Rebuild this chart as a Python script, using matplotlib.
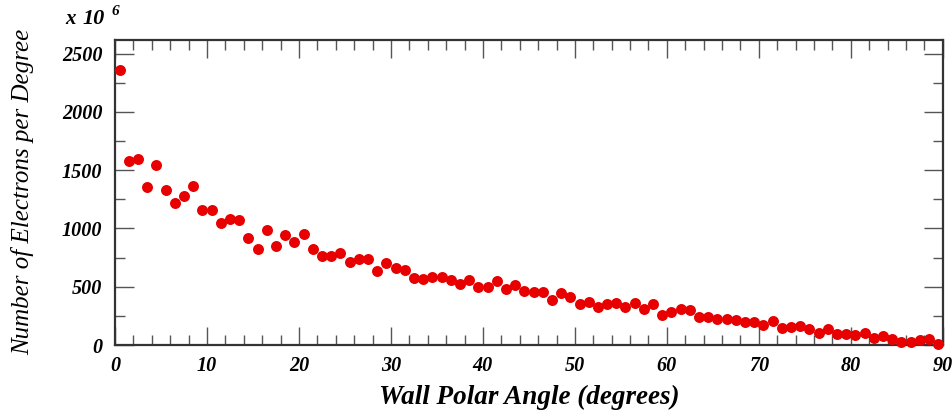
import matplotlib
matplotlib.use('Agg')
import matplotlib.pyplot as plt
import numpy as np
from matplotlib.ticker import MultipleLocator

# Electron counts per 1-degree bin of wall polar angle (units of 1e6)
bin_centres = np.arange(0.5, 90.0, 1.0)
electrons = [
    2363, 1578, 1592, 1352, 1546, 1329, 1215, 1278, 1366, 1157,
    1157, 1043, 1077, 1072, 917, 826, 983, 849, 946, 883,
    952, 823, 760, 760, 789, 714, 740, 737, 637, 700,
    663, 643, 574, 569, 586, 586, 560, 520, 557, 494,
    494, 552, 477, 517, 466, 457, 457, 389, 449, 414,
    349, 369, 326, 354, 360, 329, 357, 309, 350, 255,
    286, 306, 297, 243, 243, 226, 220, 214, 200, 200,
    171, 203, 146, 151, 160, 134, 106, 134, 94, 91,
    83, 106, 57, 77, 49, 26, 26, 43, 49, 9,
]
x_ticks = [0, 10, 20, 30, 40, 50, 60, 70, 80, 90]
y_ticks = [0, 500, 1000, 1500, 2000, 2500]

serif = ['Liberation Serif', 'DejaVu Serif']
plt.rcParams['font.family'] = serif

fig = plt.figure(figsize=(9.53, 4.13), dpi=100)
ax = fig.add_axes([0.1207, 0.1646, 0.8686, 0.7396])

ax.plot(bin_centres, electrons, 'o', color='#e80000', markersize=7.9,
        markeredgewidth=0, clip_on=False, zorder=3)

ax.set_xlim(0, 90)
ax.set_ylim(0, 2620)
ax.set_xticks(x_ticks)
ax.set_yticks(y_ticks)
ax.xaxis.set_minor_locator(MultipleLocator(2))
ax.yaxis.set_minor_locator(MultipleLocator(250))

ax.tick_params(which='both', direction='in', top=True, right=True,
               color='#555555', width=1.0)
ax.tick_params(which='major', length=14, labelsize=14.5, pad=9)
ax.tick_params(which='minor', length=7)
ax.tick_params(axis='x', which='major', length=13, pad=8)

for lab in ax.get_xticklabels() + ax.get_yticklabels():
    lab.set_fontweight('bold')
    lab.set_fontstyle('italic')

for sp in ax.spines.values():
    sp.set_linewidth(1.6)
    sp.set_color('#333333')

ax.set_xlabel('Wall Polar Angle (degrees)', fontsize=19.5, fontstyle='italic',
              fontweight='bold', labelpad=6)
ax.set_ylabel('Number of Electrons per Degree', fontsize=18, fontstyle='italic',
              labelpad=20)

# axis multiplier in the top-left corner
fig.text(0.068, 0.942, 'x', fontsize=15, fontstyle='italic',
         fontweight='bold', ha='left', va='baseline')
fig.text(0.087, 0.942, '10', fontsize=16, fontstyle='italic',
         fontweight='bold', ha='left', va='baseline')
fig.text(0.1175, 0.963, '6', fontsize=11, fontstyle='italic',
         fontweight='bold', ha='left', va='baseline')

fig.savefig('out.png', dpi=100)
